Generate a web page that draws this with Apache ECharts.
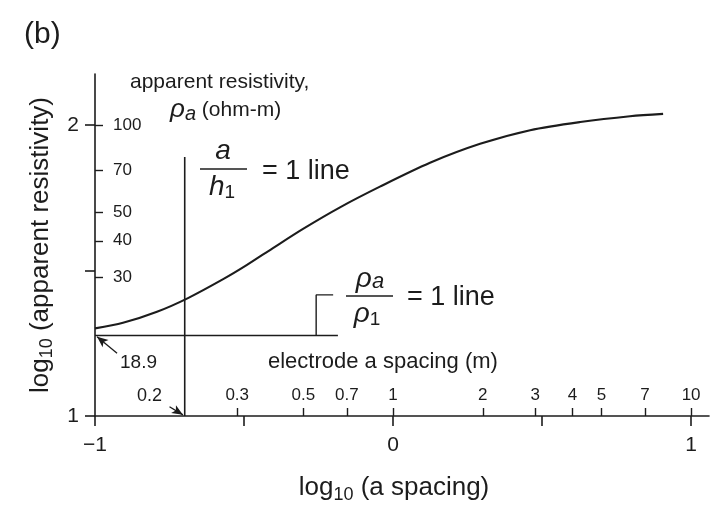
<!DOCTYPE html>
<html>
<head>
<meta charset="utf-8">
<script src="https://cdn.jsdelivr.net/npm/echarts@6/dist/echarts.min.js"></script>
<style>
  html, body { margin: 0; padding: 0; background: #fff; }
  #chart { width: 715px; height: 511px; }
</style>
</head>
<body>
<div id="chart"></div>
<script>
(function () {
    'use strict';

    /* -- Data (log10 units) -- */

    // sounding curve: log10(a spacing), log10(apparent resistivity)
    var curveX = [-1.0, -0.906, -0.792, -0.688, -0.570, -0.490, -0.403, -0.302,
                  -0.178, -0.044, 0.124, 0.292, 0.460, 0.628, 0.795, 0.906];
    var curveY = [1.301, 1.320, 1.358, 1.405, 1.470, 1.519, 1.577, 1.643,
                  1.717, 1.788, 1.870, 1.935, 1.982, 2.010, 2.030, 2.038];

    var rho1 = 18.9;          // first layer resistivity (ohm-m)
    var h1 = 0.2;             // first layer thickness (m)
    var hLineEnd = -0.185;    // right end of the rho_a/rho_1 = 1 line
    var vLineTop = 1.89;      // top of the a/h1 = 1 line
    var bracketX = [-0.258, -0.258, -0.201];
    var bracketY = [0, 1.416, 1.416];   // first y replaced by log10(rho1)

    var spacingTicks = [0.3, 0.5, 0.7, 1, 2, 3, 4, 5, 7, 10];
    var resistTicks = [30, 40, 50, 70, 100];
    var xMajorTicks = [-1, -0.5, 0, 0.5, 1];
    var xMajorLabels = [-1, 0, 1];
    var yMajorTicks = [1, 1.5, 2];
    var yMajorLabels = [1, 2];

    var X_MIN = -1, X_MAX = 1.06, Y_MIN = 1, Y_MAX = 2.175;

    var INK = '#1c1c1c';
    var FONT = '"Liberation Sans", Arial, Helvetica, sans-serif';

    function log10(v) { return Math.log(v) / Math.LN10; }
    function zip(xs, ys) { return xs.map(function (x, i) { return [x, ys[i]]; }); }
    function nearest(list, v) {
        var best = list[0];
        list.forEach(function (c) { if (Math.abs(log10(c) - v) < Math.abs(log10(best) - v)) best = c; });
        return best;
    }

    var logRho1 = log10(rho1);
    var logH1 = log10(h1);
    bracketY[0] = logRho1;

    var lineStyle = { color: INK, width: 1.6 };

    var chart = echarts.init(document.getElementById('chart'), null, { renderer: 'canvas' });

    var option = {
        animation: false,
        backgroundColor: '#fff',
        textStyle: { fontFamily: FONT, color: INK },
        grid: { left: 95, top: 74, width: 614, height: 342 },
        xAxis: [
            {
                type: 'value', min: X_MIN, max: X_MAX,
                splitLine: { show: false },
                axisLine: { show: true, onZero: false, lineStyle: { color: INK, width: 1.6 } },
                axisTick: { show: true, length: 10, customValues: xMajorTicks, lineStyle: { color: INK, width: 1.6 } },
                axisLabel: {
                    customValues: xMajorLabels, margin: 19, fontSize: 21, color: INK, fontFamily: FONT,
                    formatter: function (v) { return v < 0 ? '\u2212' + Math.abs(v) : String(v); }
                },
                name: '{t|log}{s|10}{t| (a spacing)}',
                nameLocation: 'middle', nameGap: 56,
                nameTextStyle: {
                    padding: [0, 16, 0, 0],
                    rich: {
                        t: { fontSize: 26, fontFamily: FONT, color: INK },
                        s: { fontSize: 18, fontFamily: FONT, color: INK, padding: [14, 0, 0, 0] }
                    }
                }
            },
            {
                type: 'value', min: X_MIN, max: X_MAX, position: 'bottom',
                splitLine: { show: false },
                axisLine: { show: false, onZero: false },
                axisTick: { show: true, inside: true, length: 8,
                    customValues: spacingTicks.map(log10), lineStyle: { color: INK, width: 1.4 } },
                axisLabel: {
                    inside: true, margin: 12, fontSize: 17, color: INK, fontFamily: FONT,
                    customValues: spacingTicks.map(log10),
                    formatter: function (v) { return String(nearest(spacingTicks, v)); }
                }
            }
        ],
        yAxis: [
            {
                type: 'value', min: Y_MIN, max: Y_MAX,
                splitLine: { show: false },
                axisLine: { show: true, onZero: false, lineStyle: { color: INK, width: 1.6 } },
                axisTick: { show: true, length: 10, customValues: yMajorTicks, lineStyle: { color: INK, width: 1.6 } },
                axisLabel: { customValues: yMajorLabels, margin: 16, fontSize: 21, color: INK, fontFamily: FONT },
                name: '{t|log}{s|10}{t| (apparent resistivity)}',
                nameLocation: 'middle', nameGap: 38, nameRotate: 90,
                nameTextStyle: {
                    rich: {
                        t: { fontSize: 26, fontFamily: FONT, color: INK },
                        s: { fontSize: 18, fontFamily: FONT, color: INK, padding: [14, 0, 0, 0] }
                    }
                }
            },
            {
                type: 'value', min: Y_MIN, max: Y_MAX, position: 'left',
                splitLine: { show: false },
                axisLine: { show: false, onZero: false },
                axisTick: { show: true, inside: true, length: 8,
                    customValues: resistTicks.map(log10), lineStyle: { color: INK, width: 1.4 } },
                axisLabel: {
                    inside: true, margin: 18, fontSize: 17, color: INK, fontFamily: FONT,
                    padding: [12, 0, 0, 0],
                    customValues: resistTicks.map(log10),
                    formatter: function (v) { return String(nearest(resistTicks, v)); }
                }
            }
        ],
        series: [
            {
                name: 'curve', type: 'line', smooth: 0.3, showSymbol: false,
                lineStyle: { color: INK, width: 2.1 },
                data: zip(curveX, curveY)
            },
            {
                name: 'a/h1', type: 'line', showSymbol: false, lineStyle: lineStyle,
                data: [[logH1, Y_MIN], [logH1, vLineTop]]
            },
            {
                name: 'rho/rho1', type: 'line', showSymbol: false, lineStyle: lineStyle,
                data: [[X_MIN, logRho1], [hLineEnd, logRho1]],
                markLine: {
                    silent: true, symbol: ['none', 'arrow'], symbolSize: [7, 11],
                    label: { show: false },
                    lineStyle: { color: INK, width: 1.3, type: 'solid' },
                    data: [
                        [{ coord: [-0.926, 1.216] }, { coord: [-0.993, logRho1 - 0.004] }],
                        [{ coord: [-0.750, 1.032] }, { coord: [logH1 - 0.006, Y_MIN + 0.004] }]
                    ]
                }
            },
            {
                name: 'bracket', type: 'line', showSymbol: false, lineStyle: { color: INK, width: 1.4 },
                data: zip(bracketX, bracketY)
            }
        ],
        graphic: [
            { type: 'text', left: 24, top: 20, style: { text: '(b)', fontSize: 30, fontFamily: FONT, fill: INK } },
            { type: 'text', x: 130, y: 82, style: { text: 'apparent resistivity,', fontSize: 21, fontFamily: FONT, fill: INK, verticalAlign: 'middle' } },
            { type: 'text', x: 170, y: 110, style: {
                text: '{r|\u03c1}{s|a}{t| (ohm-m)}', verticalAlign: 'middle', fontFamily: FONT,
                rich: {
                    r: { fontSize: 26, fontStyle: 'italic', fontFamily: FONT, fill: INK },
                    s: { fontSize: 20, fontStyle: 'italic', fontFamily: FONT, fill: INK, padding: [8, 0, 0, 0] },
                    t: { fontSize: 21, fontFamily: FONT, fill: INK }
                } } },
            // a / h1 = 1 line
            { type: 'text', x: 223, y: 151, style: { text: 'a', fontSize: 28, fontStyle: 'italic', fontFamily: FONT, fill: INK, align: 'center', verticalAlign: 'middle' } },
            { type: 'line', shape: { x1: 200, y1: 169, x2: 247, y2: 169 }, style: { stroke: INK, lineWidth: 1.5 } },
            { type: 'text', x: 222, y: 187, style: {
                text: '{h|h}{s|1}', align: 'center', verticalAlign: 'middle',
                rich: {
                    h: { fontSize: 28, fontStyle: 'italic', fontFamily: FONT, fill: INK },
                    s: { fontSize: 19, fontFamily: FONT, fill: INK, padding: [12, 0, 0, 0] }
                } } },
            { type: 'text', x: 262, y: 172, style: { text: '= 1 line', fontSize: 27, fontFamily: FONT, fill: INK, verticalAlign: 'middle' } },
            // rho_a / rho_1 = 1 line
            { type: 'text', x: 370, y: 279, style: {
                text: '{r|\u03c1}{s|a}', align: 'center', verticalAlign: 'middle',
                rich: {
                    r: { fontSize: 28, fontStyle: 'italic', fontFamily: FONT, fill: INK },
                    s: { fontSize: 22, fontStyle: 'italic', fontFamily: FONT, fill: INK, padding: [6, 0, 0, 0] }
                } } },
            { type: 'line', shape: { x1: 346, y1: 296, x2: 393, y2: 296 }, style: { stroke: INK, lineWidth: 1.5 } },
            { type: 'text', x: 367, y: 314, style: {
                text: '{r|\u03c1}{s|1}', align: 'center', verticalAlign: 'middle',
                rich: {
                    r: { fontSize: 28, fontStyle: 'italic', fontFamily: FONT, fill: INK },
                    s: { fontSize: 19, fontFamily: FONT, fill: INK, padding: [12, 0, 0, 0] }
                } } },
            { type: 'text', x: 407, y: 298, style: { text: '= 1 line', fontSize: 27, fontFamily: FONT, fill: INK, verticalAlign: 'middle' } },
            { type: 'text', x: 268, y: 362, style: { text: 'electrode a spacing (m)', fontSize: 22, fontFamily: FONT, fill: INK, verticalAlign: 'middle' } },
            { type: 'text', x: 120, y: 363, style: { text: '18.9', fontSize: 19, fontFamily: FONT, fill: INK, verticalAlign: 'middle' } },
            { type: 'text', x: 137, y: 396, style: { text: '0.2', fontSize: 18, fontFamily: FONT, fill: INK, verticalAlign: 'middle' } }
        ]
    };

    chart.setOption(option);
})();
</script>
</body>
</html>
